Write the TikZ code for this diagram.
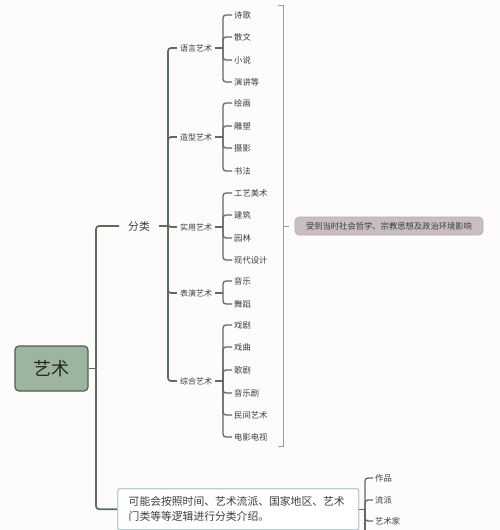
\documentclass[tikz,border=0pt]{standalone}
\usepackage{fontspec}
\setmainfont{Noto Sans CJK SC}
\usetikzlibrary{calc}
\definecolor{bg}{HTML}{FDFCFA}
\definecolor{ln}{HTML}{5E6A62}
\definecolor{txt}{HTML}{3C3C3C}
\definecolor{rootfill}{HTML}{9DB49F}
\definecolor{rootdraw}{HTML}{4F5E53}
\definecolor{tipfill}{HTML}{C9BEBF}
\definecolor{tipdraw}{HTML}{B7AAAB}
\definecolor{brk}{HTML}{9C9C9C}
\definecolor{boxdraw}{HTML}{B9CFD2}
\begin{document}
\begin{tikzpicture}[x=1pt,y=-1pt,
  conn/.style={draw=ln, line width=1.7pt, rounded corners=3pt},
  leafconn/.style={draw=ln, line width=1.3pt, rounded corners=3pt},
  brkline/.style={draw=brk, line width=0.9pt},
  leaf/.style={anchor=west, inner sep=2pt, font=\fontsize{8.3}{10}\selectfont, text=txt},
  cat/.style={inner xsep=3pt, inner ysep=2pt, font=\fontsize{8}{10}\selectfont, text=txt},
  rootbox/.style={draw=rootdraw, fill=rootfill, line width=1.2pt, rounded corners=4pt,
    minimum width=73pt, minimum height=45pt, font=\fontsize{18}{20}\selectfont, text=black!85},
  tipbox/.style={draw=tipdraw, fill=tipfill, line width=0.6pt, rounded corners=4pt,
    minimum width=188pt, minimum height=18pt, inner sep=0pt, font=\fontsize{8.3}{10}\selectfont, text=txt},
  notebox/.style={draw=boxdraw, fill=white, line width=1.4pt, rounded corners=2pt,
    anchor=north west, minimum width=241pt, text width=219pt, inner xsep=11pt, inner ysep=8pt,
    align=left, font=\fontsize{10.8}{15}\selectfont, text=txt}
]
\fill[bg] (0,0) rectangle (500,530);
\clip (0,0) rectangle (500,530);
\useasboundingbox (0,0) rectangle (500,530);

% root
\node[rootbox] (root) at (51.5,368.5) {艺术};
\coordinate (m) at (96,0);

% level 1
\node[inner xsep=9pt, inner ysep=2pt, font=\fontsize{10.8}{12}\selectfont, text=txt] (fenlei) at (139,226) {分类};
\node[notebox] (note) at (117,488) {可能会按照时间、艺术流派、国家地区、艺术\\门类等等逻辑进行分类介绍。};

\draw[conn] (root.east) -- (root.east -| m);
\draw[conn] (root.east -| m) |- (fenlei.west);
\draw[conn] (root.east -| m) |- (note.west);

% categories
\coordinate (b2) at (168,0);
\node[cat] (c1) at (196,48) {语言艺术};
\node[cat] (c2) at (196,137) {造型艺术};
\node[cat] (c3) at (196,227) {实用艺术};
\node[cat] (c4) at (196,293) {表演艺术};
\node[cat] (c5) at (196,381) {综合艺术};
\draw[conn] (fenlei.east) -- (fenlei.east -| b2);
\foreach \c in {c1,c2,c3,c4,c5}
  \draw[conn] (fenlei.east -| b2) |- (\c.west);

% leaves
\coordinate (b3) at (223,0);
\node[leaf] (l11) at (232,15) {诗歌};
\node[leaf] (l12) at (232,37) {散文};
\node[leaf] (l13) at (232,60) {小说};
\node[leaf] (l14) at (232,82) {演讲等};
\node[leaf] (l21) at (232,103) {绘画};
\node[leaf] (l22) at (232,126) {雕塑};
\node[leaf] (l23) at (232,148) {摄影};
\node[leaf] (l24) at (232,171) {书法};
\node[leaf] (l31) at (232,193) {工艺美术};
\node[leaf] (l32) at (232,215) {建筑};
\node[leaf] (l33) at (232,238) {园林};
\node[leaf] (l34) at (232,260) {现代设计};
\node[leaf] (l41) at (232,281) {音乐};
\node[leaf] (l42) at (232,304) {舞蹈};
\node[leaf] (l51) at (232,325) {戏剧};
\node[leaf] (l52) at (232,347) {戏曲};
\node[leaf] (l53) at (232,370) {歌剧};
\node[leaf] (l54) at (232,393) {音乐剧};
\node[leaf] (l55) at (232,415) {民间艺术};
\node[leaf] (l56) at (232,437) {电影电视};

\foreach \c/\ls in {c1/{l11,l12,l13,l14}, c2/{l21,l22,l23,l24}, c3/{l31,l32,l33,l34}, c4/{l41,l42}, c5/{l51,l52,l53,l54,l55,l56}} {
  \draw[leafconn] (\c.east) -- (\c.east -| b3);
  \foreach \l in \ls
    \draw[leafconn] (\c.east -| b3) |- (\l.west);
}

% big bracket and tip
\coordinate (bt) at (278,5);
\coordinate (bb) at (278,446);
\coordinate (bx) at (283,0);
\node[tipbox] (tip) at (389,226) {受到当时社会哲学、宗教思想及政治环境影响};
\draw[brkline] (bt) -- (bt -| bx) -- (bb -| bx) -- (bb);
\draw[brkline, shorten >=6pt] (tip.west -| bx) -- (tip.west);

% bottom bracket
\coordinate (b4) at (365,0);
\coordinate (bend) at (365,545);
\node[leaf] (n1) at (373,478) {作品};
\node[leaf] (n2) at (373,500) {流派};
\node[leaf] (n3) at (373,521) {艺术家};
\draw[leafconn] (note.east) -- (note.east -| b4);
\foreach \l in {n1,n2,n3}
  \draw[leafconn] (note.east -| b4) |- (\l.west);
\draw[leafconn] (note.east -| b4) -- (bend);
\end{tikzpicture}
\end{document}
